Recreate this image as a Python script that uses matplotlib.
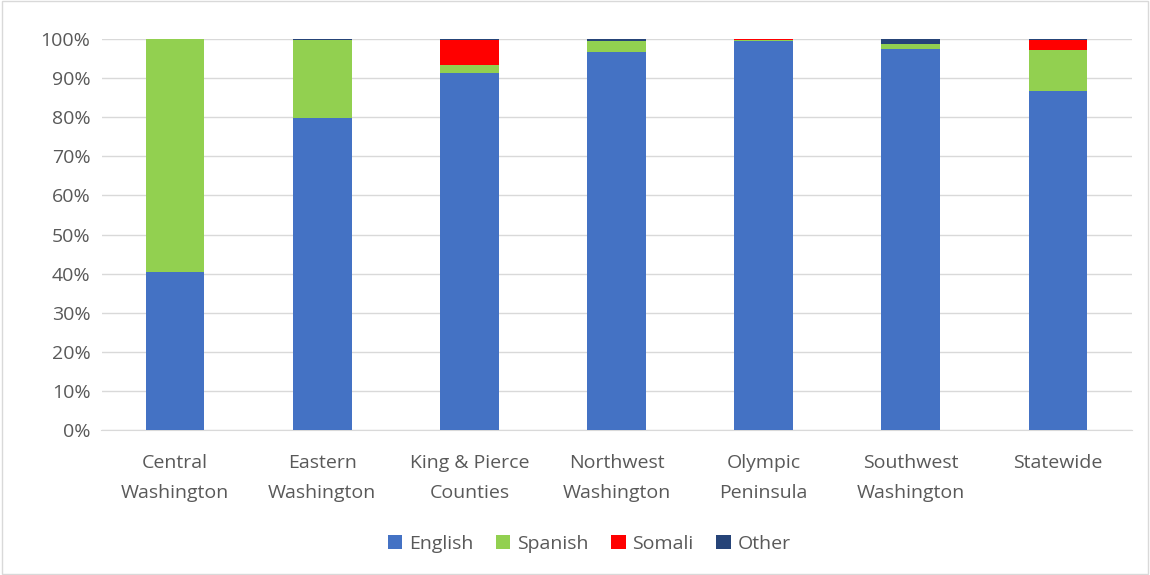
import matplotlib
matplotlib.use("Agg")
import matplotlib.pyplot as plt
from matplotlib.ticker import PercentFormatter
import numpy as np

# ---------------- data (percent of each region) ----------------
regions = ["Central\nWashington", "Eastern\nWashington", "King & Pierce\nCounties",
           "Northwest\nWashington", "Olympic\nPeninsula", "Southwest\nWashington",
           "Statewide"]
english = [40.4, 79.8, 91.4, 96.8, 99.4, 97.5, 86.8]
spanish = [59.5, 19.9, 1.9, 2.7, 0.4, 1.2, 10.3]
somali = [0.05, 0.0, 6.5, 0.0, 0.15, 0.0, 2.6]
other = [0.05, 0.3, 0.2, 0.5, 0.05, 1.3, 0.3]

series = [("English", english, "#4472C4"),
          ("Spanish", spanish, "#92D050"),
          ("Somali", somali, "#FF0000"),
          ("Other", other, "#264478")]
# ---------------------------------------------------------------

plt.rcParams['font.family'] = ['Open Sans', 'DejaVu Sans']
text_color = "#595959"

fig = plt.figure(figsize=(11.5, 5.75), dpi=100)
ax = fig.add_axes([101.5 / 1150, 1 - 430 / 575, 1030 / 1150, 391 / 575])

x = np.arange(len(regions))
bottom = np.zeros(len(regions))
for name, vals, color in series:
    vals = np.array(vals)
    ax.bar(x, vals, 0.4, bottom=bottom, color=color, label=name, zorder=3)
    bottom += vals

ax.set_xlim(-0.5, len(regions) - 0.5)
ax.set_ylim(0, 100)
ax.set_yticks(np.arange(0, 101, 10))
ax.yaxis.set_major_formatter(PercentFormatter(decimals=0))
ax.grid(axis="y", color="#d9d9d9", linewidth=1, zorder=0)
ax.set_xticks(x)
ax.set_xticklabels(regions, linespacing=1.9)
ax.tick_params(axis="both", length=0, labelsize=14, colors=text_color)
ax.tick_params(axis="x", pad=17)
ax.tick_params(axis="y", pad=8)
for side in ["top", "right", "left"]:
    ax.spines[side].set_visible(False)
ax.spines["bottom"].set_color("#d9d9d9")

leg = fig.legend(loc="center", bbox_to_anchor=(589 / 1150, 1 - 544 / 575), ncol=4,
                 frameon=False, fontsize=14, handlelength=0.75, handleheight=0.75,
                 handletextpad=0.35, columnspacing=1.15)
for t in leg.get_texts():
    t.set_color(text_color)

# thin border around the chart area
fig.patches.append(plt.Rectangle((0.002, 0.002), 0.996, 0.996, transform=fig.transFigure,
                                 fill=False, edgecolor="#d9d9d9", linewidth=1))

fig.savefig("out.png", dpi=100)
